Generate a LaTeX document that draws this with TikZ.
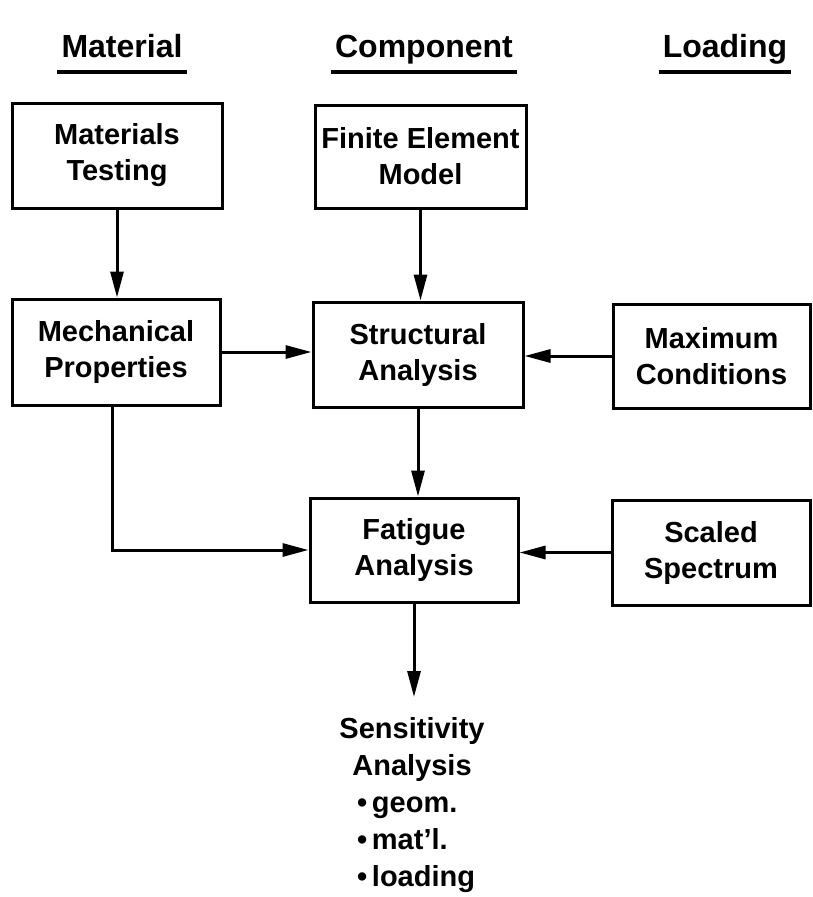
\documentclass[tikz,border=0pt]{standalone}
\usepackage{fontspec}
\setmainfont{Liberation Sans}
\usetikzlibrary{arrows.meta}
\begin{document}
\begin{tikzpicture}[x=1pt,y=-1pt,
  box/.style={draw,line width=3pt,rectangle,align=center,inner sep=0pt,
    font=\fontsize{29}{36}\selectfont\bfseries},
  head/.style={anchor=base,inner xsep=4pt,inner ysep=0pt,font=\fontsize{32}{36}\selectfont\bfseries},
  uline/.style={line width=3.5pt},
  conn/.style={line width=3pt,-{Triangle[width=13pt,length=26pt]}}]
\useasboundingbox (0,0) rectangle (813,897);
% headers
\node[head] (hmat) at (122,57) {Material};
\node[head] (hcomp) at (424,57) {Component};
\node[head] (hload) at (725,57) {Loading};
\draw[uline] ([yshift=-15pt]hmat.base west) -- ([yshift=-15pt]hmat.base east);
\draw[uline] ([yshift=-15pt]hcomp.base west) -- ([yshift=-15pt]hcomp.base east);
\draw[uline] ([yshift=-15pt]hload.base west) -- ([yshift=-15pt]hload.base east);
% boxes
\node[box,minimum width=210pt,minimum height=105pt] (mt) at (117,155.5) {Materials\\Testing};
\node[box,minimum width=211pt,minimum height=103pt] (fe) at (420.5,156.5) {Finite Element\\Model};
\node[box,minimum width=208pt,minimum height=106pt] (mp) at (116,352) {Mechanical\\Properties};
\node[box,minimum width=210pt,minimum height=105pt] (sa) at (418,354.5) {Structural\\Analysis};
\node[box,minimum width=197pt,minimum height=104pt] (mc) at (711.5,356) {Maximum\\Conditions};
\node[box,minimum width=208pt,minimum height=104pt] (fa) at (414,550) {Fatigue\\Analysis};
\node[box,minimum width=198pt,minimum height=105pt] (ss) at (711,552.5) {Scaled\\Spectrum};
% output text
\node[anchor=north,align=center,inner xsep=0pt,inner ysep=20pt,
  font=\fontsize{29}{37}\selectfont\bfseries] (sens) at (412,697)
  {Sensitivity\\Analysis\\
   \makebox[110pt][l]{\textbullet\,geom.}\\
   \makebox[110pt][l]{\textbullet\,mat'l.}\\
   \makebox[110pt][l]{\textbullet\,loading}};
% connectors
\draw[conn] (mt.south) -- (mt.south |- mp.north);
\draw[conn] (fe.south) -- (fe.south |- sa.north);
\draw[conn] (mp.east) -- (mp.east -| sa.west);
\draw[conn] (mc.west) -- (mc.west -| sa.east);
\draw[conn] (sa.south) -- (sa.south |- fa.north);
\draw[conn] ([xshift=-4pt]mp.south) |- (fa.west);
\draw[conn] (ss.west) -- (ss.west -| fa.east);
\draw[conn] (fa.south) -- (fa.south |- sens.north);
\end{tikzpicture}
\end{document}
